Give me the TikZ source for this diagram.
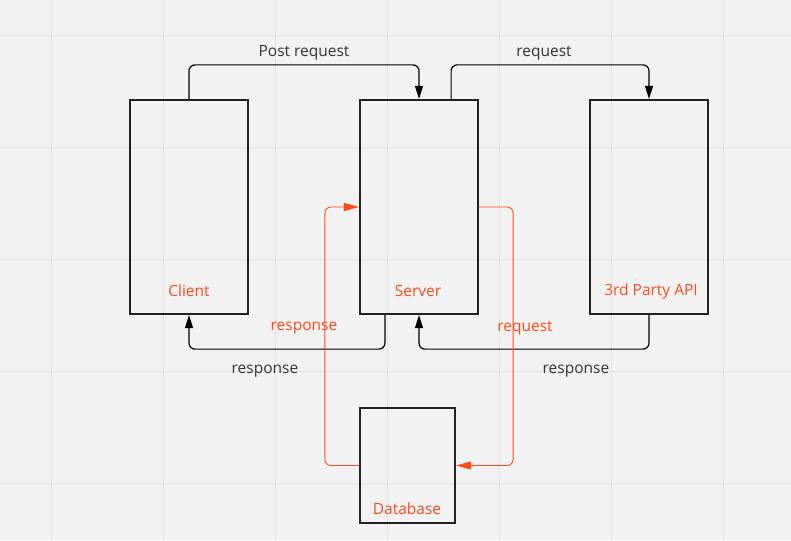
\documentclass[tikz,border=0pt]{standalone}
\usepackage{fontspec}
\setmainfont{Open Sans}
\usetikzlibrary{arrows.meta,calc}
\definecolor{boardbg}{HTML}{F2F2F2}
\definecolor{gridcol}{HTML}{E3E3E3}
\definecolor{boxline}{HTML}{222222}
\definecolor{labeltext}{HTML}{333333}
\definecolor{hotred}{HTML}{FF4A1C}
\tikzset{
	box/.style={draw=boxline, line width=2.2pt, minimum width=118pt, minimum height=214pt, inner sep=0pt},
	boxname/.style={text=hotred, font=\fontsize{15.5}{18}\selectfont},
	edgename/.style={text=labeltext, font=\fontsize{15.5}{18}\selectfont},
	conn/.style={draw=black, line width=1.2pt, rounded corners=6pt, -{Triangle[length=13pt,width=8pt]}},
	redconn/.style={draw=hotred, line width=0.9pt, rounded corners=6pt, -{Triangle[length=15pt,width=8pt]}}
}

\begin{document}
\begin{tikzpicture}[x=1pt, y=-1pt]
	%%%%% BOARD %%%%%
	\fill[boardbg] (0,0) rectangle (791,540);
	\useasboundingbox (0,0) rectangle (791,540);
	\foreach \gx in {51,163,...,723}
		\draw[gridcol, line width=0.8pt] (\gx,0) -- (\gx,540);
	\foreach \gy in {35,147,...,483}
		\draw[gridcol, line width=0.8pt] (0,\gy) -- (791,\gy);
	
	%%%%% BOXES %%%%%
	\node[box] (client) at (189, 207) {};
	\node[box] (server) at (419, 207) {};
	\node[box] (api) at (649, 207) {};
	\node[box, minimum width=95pt, minimum height=115pt] (db) at (407.5, 465.5) {};
	
	\node[boxname] (client-txt) at (189, 291) {Client};
	\node[boxname] (server-txt) at (418, 291) {Server};
	\node[boxname] (api-txt) at (651, 291) {3rd Party API};
	\node[boxname] (db-txt) at (407, 509) {Database};
	
	%%%%% BLACK CONNECTORS %%%%%
	\draw[conn] (client.north) -- ++(0,-34) -| (server.north);
	\draw[conn] ($(server.north east)+(-28,0)$) -- ++(0,-34) -| (api.north);
	\draw[conn] ($(server.south west)+(26,0)$) -- ++(0,34) -| (client.south);
	\draw[conn] (api.south) -- ++(0,34) -| (server.south);
	
	\node[edgename] (post-txt) at (304, 53) {Post request};
	\node[edgename] (req-txt) at (544, 53) {request};
	\node[edgename] (resp-txt) at (265, 371) {response};
	\node[edgename] (resp2-txt) at (576, 371) {response};
	
	%%%%% RED CONNECTORS %%%%%
	\draw[redconn] (db.west) -- ++(-34,0) |- (server.west);
	\draw[redconn] (server.east) -- ++(34,0) |- (db.east);
	
	\node[boxname] (dbresp-txt) at (304, 328) {response};
	\node[boxname] (dbreq-txt) at (525, 328) {request};
\end{tikzpicture}
\end{document}
